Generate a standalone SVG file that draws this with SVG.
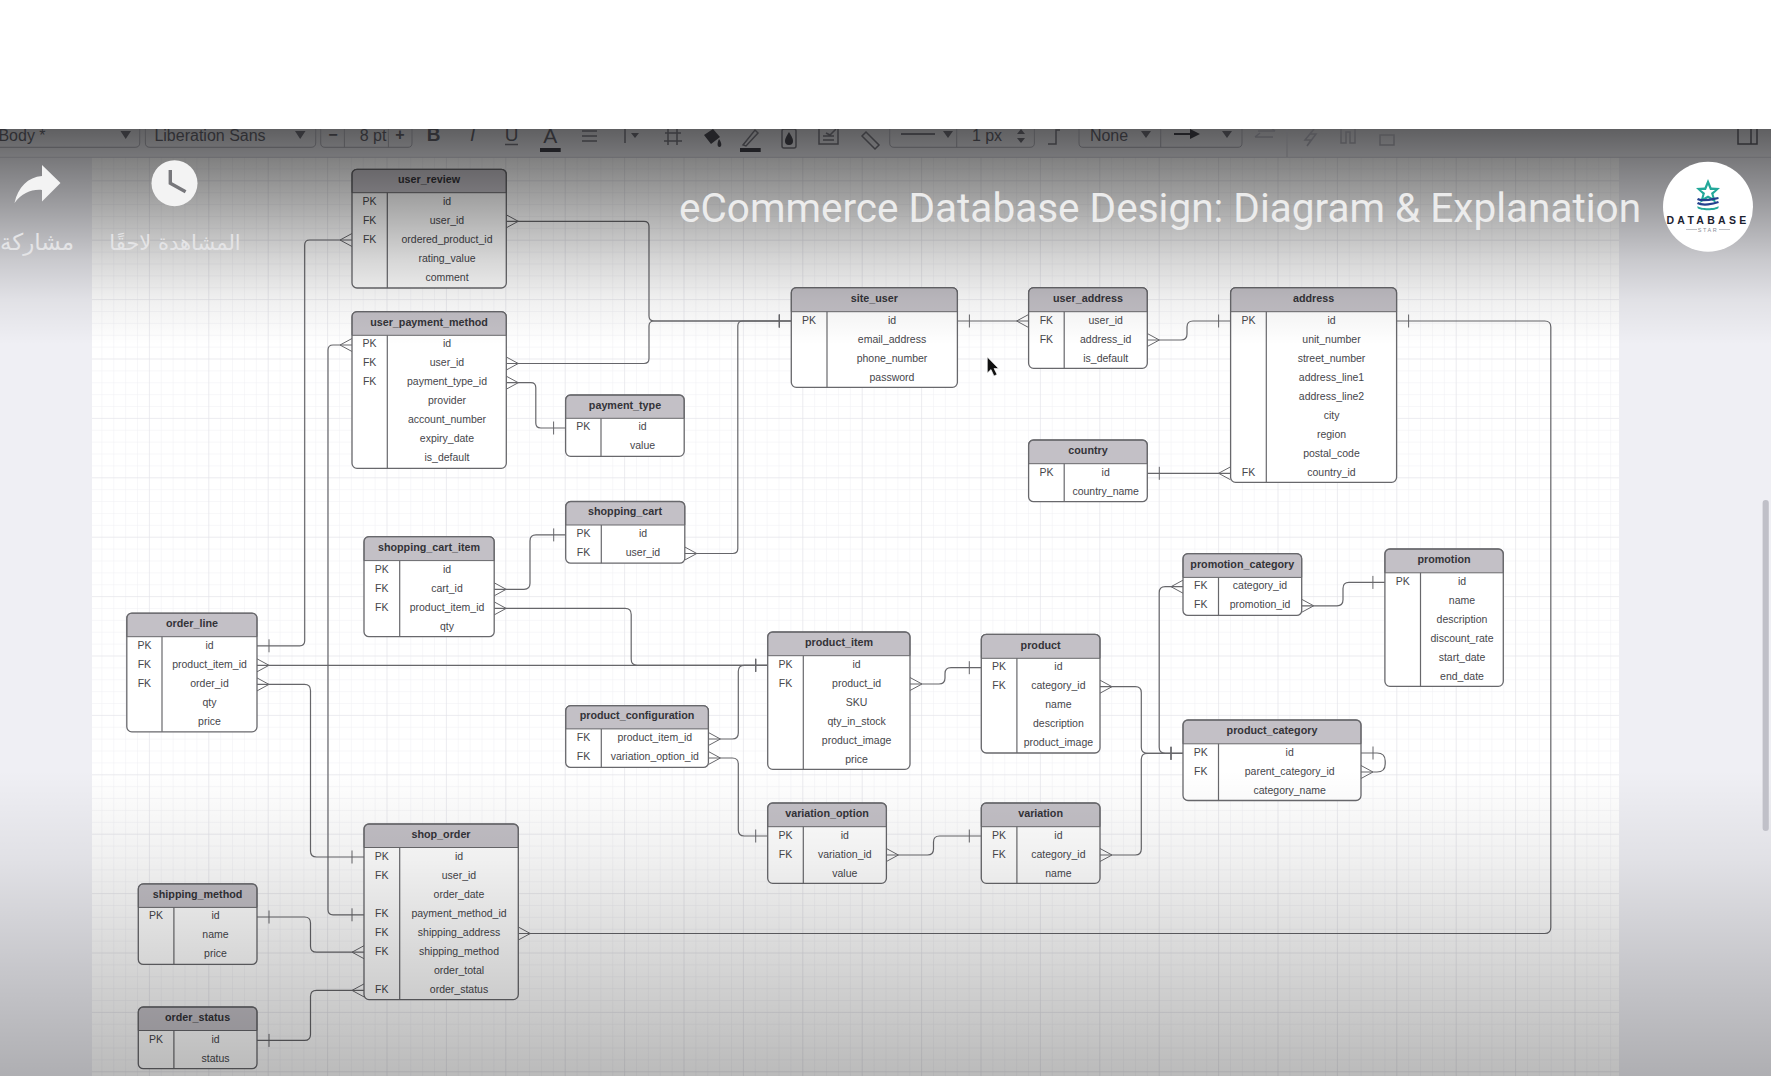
<svg xmlns="http://www.w3.org/2000/svg" width="1771" height="1076" viewBox="0 0 1771 1076">
<style>
.b{fill:#fff;stroke:none}.h{fill:#c3c0c6;stroke:#68686c;stroke-width:1}.o{fill:none;stroke:#68686c;stroke-width:1.3}.s{fill:none;stroke:#68686c;stroke-width:1.2}
text{font-family:"Liberation Sans",Arial,sans-serif;text-anchor:middle}
.t{font-size:10.75px;font-weight:700;fill:#333338;transform:translateY(-1px)}.k,.f{font-size:10.5px;fill:#46464b;transform:translateY(-.5px)}
.c{fill:none;stroke:#66666a;stroke-width:1.2}
.m{fill:none;stroke:#66666a;stroke-width:1}
.tb{font-size:16px;fill:#2f2f33}.ti{fill:none;stroke:#3a3a3e;stroke-width:1.5}.bx{fill:none;stroke:#535357;stroke-width:1}.tf{fill:#343438}
.ar{font-family:"DejaVu Sans",sans-serif;fill:#e4e4e6}
</style>
<defs>
<marker id="one" markerUnits="userSpaceOnUse" viewBox="-14 -8 14 16" markerWidth="14" markerHeight="16" refX="0" refY="0" orient="auto-start-reverse"><path class="m" d="M-12 -6.5V6.5"/></marker>
<marker id="many" markerUnits="userSpaceOnUse" viewBox="-14 -8 14 16" markerWidth="14" markerHeight="16" refX="0" refY="0" orient="auto-start-reverse"><path class="m" d="M0 -6.5L-12 0L0 6.5"/></marker>
<pattern id="gmin" patternUnits="userSpaceOnUse" x="30.1" y="2.1" width="11.88" height="11.88"><path d="M0 0V11.88M0 0H11.88" fill="none" stroke="#f0f0f3" stroke-width="1"/></pattern>
<pattern id="gmaj" patternUnits="userSpaceOnUse" x="30.1" y="2.1" width="59.4" height="59.4"><path d="M0 0V59.4M0 0H59.4" fill="none" stroke="#e2e2e7" stroke-width="1"/></pattern>
<linearGradient id="shade" gradientUnits="userSpaceOnUse" x1="0" y1="129" x2="0" y2="1076">
<stop offset="0" stop-color="#000" stop-opacity=".6"/><stop offset=".03" stop-color="#000" stop-opacity=".5"/><stop offset=".075" stop-color="#000" stop-opacity=".36"/><stop offset=".138" stop-color="#000" stop-opacity=".16"/><stop offset=".18" stop-color="#000" stop-opacity=".06"/><stop offset=".228" stop-color="#000" stop-opacity="0"/><stop offset=".677" stop-color="#000" stop-opacity="0"/><stop offset=".772" stop-color="#000" stop-opacity=".06"/><stop offset=".867" stop-color="#000" stop-opacity=".15"/><stop offset="1" stop-color="#000" stop-opacity=".27"/>
</linearGradient>
</defs>
<rect width="1771" height="1076" fill="#fff"/>
<rect x="0" y="129" width="1771" height="947" fill="#efeff4"/>
<rect x="92" y="157" width="1527" height="919" fill="#fff"/>
<rect x="92" y="157" width="1527" height="919" fill="url(#gmin)"/>
<rect x="92" y="157" width="1527" height="919" fill="url(#gmaj)"/>
<g id="connectors">
<path class="c" marker-start="url(#many)" marker-end="url(#one)" d="M506.3 221.3H644Q649 221.3 649 226.3V316Q649 321 654 321H791.3"/>
<path class="c" marker-start="url(#many)" marker-end="url(#one)" d="M506.3 363.5H644Q649 363.5 649 358.5V326Q649 321 654 321H791.3"/>
<path class="c" marker-start="url(#many)" marker-end="url(#one)" d="M684.8 553.5H732.8Q737.8 553.5 737.8 548.5V326Q737.8 321 742.8 321H791.3"/>
<path class="c" marker-start="url(#one)" marker-end="url(#many)" d="M257 645.8H299.7Q304.7 645.8 304.7 640.8V245Q304.7 240 309.7 240H352"/>
<path class="c" marker-start="url(#one)" marker-end="url(#many)" d="M364 914.8H333Q328 914.8 328 909.8V350Q328 345 333 345H352"/>
<path class="c" marker-start="url(#many)" marker-end="url(#one)" d="M506.3 382.7H530.8Q535.8 382.7 535.8 387.7V423Q535.8 428 540.8 428H565.6"/>
<path class="c" marker-start="url(#one)" marker-end="url(#many)" d="M957.4 321H1028.6"/>
<path class="c" marker-start="url(#many)" marker-end="url(#one)" d="M1147.3 340H1181Q1187 340 1187 334V327Q1187 321 1193 321H1230.6"/>
<path class="c" marker-start="url(#one)" marker-end="url(#many)" d="M1147.3 473.3H1230.6"/>
<path class="c" marker-start="url(#one)" marker-end="url(#many)" d="M1396.6 321H1544.8Q1550.8 321 1550.8 327V927.5Q1550.8 933.5 1544.8 933.5H518.3"/>
<path class="c" marker-start="url(#many)" marker-end="url(#one)" d="M494.2 589.3H524Q530 589.3 530 583.3V540.9Q530 534.9 536 534.9H565.7"/>
<path class="c" marker-start="url(#many)" marker-end="url(#one)" d="M494.2 608.4H625.2Q631.2 608.4 631.2 614.4V659.3Q631.2 665.3 637.2 665.3H767.7"/>
<path class="c" marker-start="url(#many)" marker-end="url(#one)" d="M257 665.3H767.7"/>
<path class="c" marker-start="url(#many)" marker-end="url(#one)" d="M708.4 739H732.3Q738.3 739 738.3 733V671.3Q738.3 665.3 744.3 665.3H767.7"/>
<path class="c" marker-start="url(#many)" marker-end="url(#one)" d="M708.4 758H732.3Q738.3 758 738.3 764V830Q738.3 836 744.3 836H767.7"/>
<path class="c" marker-start="url(#many)" marker-end="url(#one)" d="M910 684H939Q945 684 945 678V673.7Q945 667.7 951 667.7H981.3"/>
<path class="c" marker-start="url(#many)" marker-end="url(#one)" d="M1100 686.7H1135.3Q1141.3 686.7 1141.3 692.7V747.3Q1141.3 753.3 1147.3 753.3H1183"/>
<path class="c" marker-start="url(#many)" marker-end="url(#one)" d="M1100 855H1135.3Q1141.3 855 1141.3 849V759.3Q1141.3 753.3 1147.3 753.3H1183"/>
<path class="c" marker-start="url(#many)" marker-end="url(#one)" d="M1183 586.7H1165.2Q1159.2 586.7 1159.2 592.7V747.3Q1159.2 753.3 1165.2 753.3H1183"/>
<path class="c" marker-start="url(#many)" marker-end="url(#one)" d="M1301.7 605.8H1337Q1343 605.8 1343 599.8V588.4Q1343 582.4 1349 582.4H1384.9"/>
<path class="c" marker-start="url(#one)" marker-end="url(#many)" d="M1361 753H1377Q1385.2 753 1385.2 761V764Q1385.2 772 1377 772H1361"/>
<path class="c" marker-start="url(#many)" marker-end="url(#one)" d="M886.4 855H927.5Q933.5 855 933.5 849V842Q933.5 836 939.5 836H981.3"/>
<path class="c" marker-start="url(#many)" marker-end="url(#one)" d="M257 684.4H304.5Q310.5 684.4 310.5 690.4V851Q310.5 857 316.5 857H364"/>
<path class="c" marker-start="url(#one)" marker-end="url(#many)" d="M257 917H304.5Q310.5 917 310.5 923V946.2Q310.5 952.2 316.5 952.2H364"/>
<path class="c" marker-start="url(#one)" marker-end="url(#many)" d="M257 1040.4H304.5Q310.5 1040.4 310.5 1034.4V996.4Q310.5 990.4 316.5 990.4H364"/>
</g>
<g id="user_review"><rect class="b" x="352" y="169.3" width="154.3" height="118.7" rx="5"/><path class="h" d="M352 192.7V174.3Q352 169.3 357 169.3H501.3Q506.3 169.3 506.3 174.3V192.7Z"/><rect class="o" x="352" y="169.3" width="154.3" height="118.7" rx="5"/><path class="s" d="M387.3 192.7V288"/><text class="t" x="429" y="184">user_review</text><text class="k" x="369.6" y="205">PK</text><text class="k" x="369.6" y="224">FK</text><text class="k" x="369.6" y="243">FK</text><text class="f" x="447" y="205">id</text><text class="f" x="447" y="224">user_id</text><text class="f" x="447" y="243">ordered_product_id</text><text class="f" x="447" y="262">rating_value</text><text class="f" x="447" y="281">comment</text></g>
<g id="user_payment_method"><rect class="b" x="352" y="311.7" width="154.3" height="156.6" rx="5"/><path class="h" d="M352 335.3V316.7Q352 311.7 357 311.7H501.3Q506.3 311.7 506.3 316.7V335.3Z"/><rect class="o" x="352" y="311.7" width="154.3" height="156.6" rx="5"/><path class="s" d="M387.3 335.3V468.3"/><text class="t" x="429" y="326.6">user_payment_method</text><text class="k" x="369.6" y="347.8">PK</text><text class="k" x="369.6" y="366.8">FK</text><text class="k" x="369.6" y="385.8">FK</text><text class="f" x="447" y="347.8">id</text><text class="f" x="447" y="366.8">user_id</text><text class="f" x="447" y="385.8">payment_type_id</text><text class="f" x="447" y="404.8">provider</text><text class="f" x="447" y="423.8">account_number</text><text class="f" x="447" y="442.8">expiry_date</text><text class="f" x="447" y="461.8">is_default</text></g>
<g id="payment_type"><rect class="b" x="565.6" y="395" width="118.6" height="61.3" rx="5"/><path class="h" d="M565.6 418.3V400Q565.6 395 570.6 395H679.2Q684.2 395 684.2 400V418.3Z"/><rect class="o" x="565.6" y="395" width="118.6" height="61.3" rx="5"/><path class="s" d="M601 418.3V456.3"/><text class="t" x="625" y="409.6">payment_type</text><text class="k" x="583.3" y="430.8">PK</text><text class="f" x="642.6" y="430.8">id</text><text class="f" x="642.6" y="449.8">value</text></g>
<g id="site_user"><rect class="b" x="791.3" y="287.7" width="166.1" height="99.6" rx="5"/><path class="h" d="M791.3 311.7V292.7Q791.3 287.7 796.3 287.7H952.4Q957.4 287.7 957.4 292.7V311.7Z"/><rect class="o" x="791.3" y="287.7" width="166.1" height="99.6" rx="5"/><path class="s" d="M827 311.7V387.3"/><text class="t" x="874.3" y="303">site_user</text><text class="k" x="809" y="324.2">PK</text><text class="f" x="892" y="324.2">id</text><text class="f" x="892" y="343.2">email_address</text><text class="f" x="892" y="362.2">phone_number</text><text class="f" x="892" y="381.2">password</text></g>
<g id="user_address"><rect class="b" x="1028.6" y="287.7" width="118.7" height="80.6" rx="5"/><path class="h" d="M1028.6 311.7V292.7Q1028.6 287.7 1033.6 287.7H1142.3Q1147.3 287.7 1147.3 292.7V311.7Z"/><rect class="o" x="1028.6" y="287.7" width="118.7" height="80.6" rx="5"/><path class="s" d="M1064.2 311.7V368.3"/><text class="t" x="1088" y="303">user_address</text><text class="k" x="1046.4" y="324.2">FK</text><text class="k" x="1046.4" y="343.2">FK</text><text class="f" x="1105.7" y="324.2">user_id</text><text class="f" x="1105.7" y="343.2">address_id</text><text class="f" x="1105.7" y="362.2">is_default</text></g>
<g id="country"><rect class="b" x="1028.6" y="440" width="118.7" height="61.7" rx="5"/><path class="h" d="M1028.6 463.7V445Q1028.6 440 1033.6 440H1142.3Q1147.3 440 1147.3 445V463.7Z"/><rect class="o" x="1028.6" y="440" width="118.7" height="61.7" rx="5"/><path class="s" d="M1064.2 463.7V501.7"/><text class="t" x="1088" y="455">country</text><text class="k" x="1046.4" y="476.2">PK</text><text class="f" x="1105.7" y="476.2">id</text><text class="f" x="1105.7" y="495.2">country_name</text></g>
<g id="address"><rect class="b" x="1230.6" y="287.7" width="166" height="194.6" rx="5"/><path class="h" d="M1230.6 311.7V292.7Q1230.6 287.7 1235.6 287.7H1391.6Q1396.6 287.7 1396.6 292.7V311.7Z"/><rect class="o" x="1230.6" y="287.7" width="166" height="194.6" rx="5"/><path class="s" d="M1266.3 311.7V482.3"/><text class="t" x="1313.6" y="303">address</text><text class="k" x="1248.5" y="324.2">PK</text><text class="k" x="1248.5" y="476.2">FK</text><text class="f" x="1331.5" y="324.2">id</text><text class="f" x="1331.5" y="343.2">unit_number</text><text class="f" x="1331.5" y="362.2">street_number</text><text class="f" x="1331.5" y="381.2">address_line1</text><text class="f" x="1331.5" y="400.2">address_line2</text><text class="f" x="1331.5" y="419.2">city</text><text class="f" x="1331.5" y="438.2">region</text><text class="f" x="1331.5" y="457.2">postal_code</text><text class="f" x="1331.5" y="476.2">country_id</text></g>
<g id="shopping_cart"><rect class="b" x="565.7" y="501.5" width="119.1" height="61.7" rx="5"/><path class="h" d="M565.7 525V506.5Q565.7 501.5 570.7 501.5H679.8Q684.8 501.5 684.8 506.5V525Z"/><rect class="o" x="565.7" y="501.5" width="119.1" height="61.7" rx="5"/><path class="s" d="M601.3 525V563.2"/><text class="t" x="625" y="516">shopping_cart</text><text class="k" x="583.5" y="537.5">PK</text><text class="k" x="583.5" y="556.5">FK</text><text class="f" x="643" y="537.5">id</text><text class="f" x="643" y="556.5">user_id</text></g>
<g id="shopping_cart_item"><rect class="b" x="364" y="536.7" width="130.2" height="100" rx="5"/><path class="h" d="M364 560.6V541.7Q364 536.7 369 536.7H489.2Q494.2 536.7 494.2 541.7V560.6Z"/><rect class="o" x="364" y="536.7" width="130.2" height="100" rx="5"/><path class="s" d="M399.7 560.6V636.7"/><text class="t" x="429" y="552">shopping_cart_item</text><text class="k" x="381.8" y="573">PK</text><text class="k" x="381.8" y="592">FK</text><text class="k" x="381.8" y="611">FK</text><text class="f" x="447" y="573">id</text><text class="f" x="447" y="592">cart_id</text><text class="f" x="447" y="611">product_item_id</text><text class="f" x="447" y="630">qty</text></g>
<g id="order_line"><rect class="b" x="126.8" y="613.2" width="130.2" height="118.6" rx="5"/><path class="h" d="M126.8 636.7V618.2Q126.8 613.2 131.8 613.2H252Q257 613.2 257 618.2V636.7Z"/><rect class="o" x="126.8" y="613.2" width="130.2" height="118.6" rx="5"/><path class="s" d="M162 636.7V731.8"/><text class="t" x="192" y="627.5">order_line</text><text class="k" x="144.4" y="649.2">PK</text><text class="k" x="144.4" y="668.2">FK</text><text class="k" x="144.4" y="687.2">FK</text><text class="f" x="209.5" y="649.2">id</text><text class="f" x="209.5" y="668.2">product_item_id</text><text class="f" x="209.5" y="687.2">order_id</text><text class="f" x="209.5" y="706.2">qty</text><text class="f" x="209.5" y="725.2">price</text></g>
<g id="product_configuration"><rect class="b" x="565.7" y="705.7" width="142.7" height="61.7" rx="5"/><path class="h" d="M565.7 728.9V710.7Q565.7 705.7 570.7 705.7H703.4Q708.4 705.7 708.4 710.7V728.9Z"/><rect class="o" x="565.7" y="705.7" width="142.7" height="61.7" rx="5"/><path class="s" d="M601.3 728.9V767.4"/><text class="t" x="637" y="720">product_configuration</text><text class="k" x="583.5" y="741.5">FK</text><text class="k" x="583.5" y="760.5">FK</text><text class="f" x="654.8" y="741.5">product_item_id</text><text class="f" x="654.8" y="760.5">variation_option_id</text></g>
<g id="product_item"><rect class="b" x="767.7" y="632" width="142.3" height="137.3" rx="5"/><path class="h" d="M767.7 655.7V637Q767.7 632 772.7 632H905Q910 632 910 637V655.7Z"/><rect class="o" x="767.7" y="632" width="142.3" height="137.3" rx="5"/><path class="s" d="M803.3 655.7V769.3"/><text class="t" x="839" y="647">product_item</text><text class="k" x="785.5" y="668.2">PK</text><text class="k" x="785.5" y="687.2">FK</text><text class="f" x="856.6" y="668.2">id</text><text class="f" x="856.6" y="687.2">product_id</text><text class="f" x="856.6" y="706.2">SKU</text><text class="f" x="856.6" y="725.2">qty_in_stock</text><text class="f" x="856.6" y="744.2">product_image</text><text class="f" x="856.6" y="763.2">price</text></g>
<g id="product"><rect class="b" x="981.3" y="634.3" width="118.7" height="118.7" rx="5"/><path class="h" d="M981.3 658.3V639.3Q981.3 634.3 986.3 634.3H1095Q1100 634.3 1100 639.3V658.3Z"/><rect class="o" x="981.3" y="634.3" width="118.7" height="118.7" rx="5"/><path class="s" d="M1016.9 658.3V753"/><text class="t" x="1040.6" y="649.5">product</text><text class="k" x="999" y="670.8">PK</text><text class="k" x="999" y="689.8">FK</text><text class="f" x="1058.4" y="670.8">id</text><text class="f" x="1058.4" y="689.8">category_id</text><text class="f" x="1058.4" y="708.8">name</text><text class="f" x="1058.4" y="727.8">description</text><text class="f" x="1058.4" y="746.8">product_image</text></g>
<g id="variation_option"><rect class="b" x="767.7" y="803" width="118.7" height="80.3" rx="5"/><path class="h" d="M767.7 826.7V808Q767.7 803 772.7 803H881.4Q886.4 803 886.4 808V826.7Z"/><rect class="o" x="767.7" y="803" width="118.7" height="80.3" rx="5"/><path class="s" d="M803.3 826.7V883.3"/><text class="t" x="827" y="818">variation_option</text><text class="k" x="785.5" y="839.2">PK</text><text class="k" x="785.5" y="858.2">FK</text><text class="f" x="844.8" y="839.2">id</text><text class="f" x="844.8" y="858.2">variation_id</text><text class="f" x="844.8" y="877.2">value</text></g>
<g id="variation"><rect class="b" x="981.3" y="803" width="118.7" height="80.3" rx="5"/><path class="h" d="M981.3 826.7V808Q981.3 803 986.3 803H1095Q1100 803 1100 808V826.7Z"/><rect class="o" x="981.3" y="803" width="118.7" height="80.3" rx="5"/><path class="s" d="M1016.9 826.7V883.3"/><text class="t" x="1040.6" y="818">variation</text><text class="k" x="999" y="839.2">PK</text><text class="k" x="999" y="858.2">FK</text><text class="f" x="1058.4" y="839.2">id</text><text class="f" x="1058.4" y="858.2">category_id</text><text class="f" x="1058.4" y="877.2">name</text></g>
<g id="promotion_category"><rect class="b" x="1183" y="553.7" width="118.7" height="61.7" rx="5"/><path class="h" d="M1183 577.4V558.7Q1183 553.7 1188 553.7H1296.7Q1301.7 553.7 1301.7 558.7V577.4Z"/><rect class="o" x="1183" y="553.7" width="118.7" height="61.7" rx="5"/><path class="s" d="M1218.5 577.4V615.4"/><text class="t" x="1242.3" y="568.5">promotion_category</text><text class="k" x="1200.8" y="589.8">FK</text><text class="k" x="1200.8" y="608.8">FK</text><text class="f" x="1260" y="589.8">category_id</text><text class="f" x="1260" y="608.8">promotion_id</text></g>
<g id="promotion"><rect class="b" x="1384.9" y="549" width="118.4" height="137.3" rx="5"/><path class="h" d="M1384.9 572.8V554Q1384.9 549 1389.9 549H1498.3Q1503.3 549 1503.3 554V572.8Z"/><rect class="o" x="1384.9" y="549" width="118.4" height="137.3" rx="5"/><path class="s" d="M1420.5 572.8V686.3"/><text class="t" x="1444" y="563.5">promotion</text><text class="k" x="1402.7" y="585.3">PK</text><text class="f" x="1462" y="585.3">id</text><text class="f" x="1462" y="604.3">name</text><text class="f" x="1462" y="623.3">description</text><text class="f" x="1462" y="642.3">discount_rate</text><text class="f" x="1462" y="661.3">start_date</text><text class="f" x="1462" y="680.3">end_date</text></g>
<g id="product_category"><rect class="b" x="1183" y="720" width="178" height="80.5" rx="5"/><path class="h" d="M1183 743.8V725Q1183 720 1188 720H1356Q1361 720 1361 725V743.8Z"/><rect class="o" x="1183" y="720" width="178" height="80.5" rx="5"/><path class="s" d="M1218.5 743.8V800.5"/><text class="t" x="1272" y="735">product_category</text><text class="k" x="1200.8" y="756.3">PK</text><text class="k" x="1200.8" y="775.3">FK</text><text class="f" x="1289.7" y="756.3">id</text><text class="f" x="1289.7" y="775.3">parent_category_id</text><text class="f" x="1289.7" y="794.3">category_name</text></g>
<g id="shop_order"><rect class="b" x="364" y="824" width="154.3" height="175.6" rx="5"/><path class="h" d="M364 847.5V829Q364 824 369 824H513.3Q518.3 824 518.3 829V847.5Z"/><rect class="o" x="364" y="824" width="154.3" height="175.6" rx="5"/><path class="s" d="M399.7 847.5V999.6"/><text class="t" x="441" y="839">shop_order</text><text class="k" x="381.8" y="860">PK</text><text class="k" x="381.8" y="879">FK</text><text class="k" x="381.8" y="917">FK</text><text class="k" x="381.8" y="936">FK</text><text class="k" x="381.8" y="955">FK</text><text class="k" x="381.8" y="993">FK</text><text class="f" x="459" y="860">id</text><text class="f" x="459" y="879">user_id</text><text class="f" x="459" y="898">order_date</text><text class="f" x="459" y="917">payment_method_id</text><text class="f" x="459" y="936">shipping_address</text><text class="f" x="459" y="955">shipping_method</text><text class="f" x="459" y="974">order_total</text><text class="f" x="459" y="993">order_status</text></g>
<g id="shipping_method"><rect class="b" x="138.3" y="883.9" width="118.7" height="80.5" rx="5"/><path class="h" d="M138.3 907.4V888.9Q138.3 883.9 143.3 883.9H252Q257 883.9 257 888.9V907.4Z"/><rect class="o" x="138.3" y="883.9" width="118.7" height="80.5" rx="5"/><path class="s" d="M173.9 907.4V964.4"/><text class="t" x="197.6" y="898.5">shipping_method</text><text class="k" x="156" y="919.9">PK</text><text class="f" x="215.5" y="919.9">id</text><text class="f" x="215.5" y="938.9">name</text><text class="f" x="215.5" y="957.9">price</text></g>
<g id="order_status"><rect class="b" x="138.3" y="1007" width="118.7" height="61.7" rx="5"/><path class="h" d="M138.3 1030.5V1012Q138.3 1007 143.3 1007H252Q257 1007 257 1012V1030.5Z"/><rect class="o" x="138.3" y="1007" width="118.7" height="61.7" rx="5"/><path class="s" d="M173.9 1030.5V1068.7"/><text class="t" x="197.6" y="1021.5">order_status</text><text class="k" x="156" y="1043">PK</text><text class="f" x="215.5" y="1043">id</text><text class="f" x="215.5" y="1062">status</text></g>
<path id="cursor" d="M987.3 357V373L991 369.5L994 376L997 374.5L994 368.5H998.5Z" fill="#111" stroke="#fff" stroke-width=".6"/>
<rect id="shade-overlay" x="0" y="129" width="1771" height="947" fill="url(#shade)"/>
<g id="toolbar">
<path d="M0 157.3H1771" stroke="#6a6a6e" stroke-width="1" fill="none"/>
<path class="bx" d="M-5 147.3H135Q139.7 147.3 139.7 143V129M145.4 129V143Q145.4 147.3 150 147.3H311Q315.7 147.3 315.7 143V129M320.7 129V143Q320.7 147.3 325 147.3H408Q412 147.3 412 143V129M344.4 129V147.3M388.4 129V147.3"/>
<path class="bx" d="M889.7 129V143Q889.7 147.3 894 147.3H1030Q1034.4 147.3 1034.4 143V129M956.7 129V147.3M1079 129V143Q1079 147.3 1083 147.3H1238Q1242 147.3 1242 143V129M1160.7 129V147.3"/>
<text class="tb" x="22" y="140.5">Body *</text>
<text class="tb" x="210" y="140.5">Liberation Sans</text>
<text class="tb" x="373" y="140.5">8 pt</text>
<path class="tf" d="M120.5 131H131L125.7 139ZM295 131H305.5L300.2 139ZM943 131H953L948 138ZM1141 131H1151L1146 138ZM1222 131H1232L1227 138ZM631 133H639L635 138Z"/>
<text class="tb" x="333" y="140" font-weight="700">−</text><text class="tb" x="400" y="140" font-weight="700">+</text>
<text class="tb" x="433.6" y="141" font-weight="700" style="font-size:19px">B</text>
<text class="tb" x="472.6" y="141" font-style="italic" style="font-size:19px">I</text>
<text class="tb" x="511.7" y="141" style="font-size:19px">U</text><path class="ti" d="M505 144.5H518"/>
<text class="tb" x="550.3" y="143" style="font-size:21px">A</text><path d="M540 148H560.7V152H540Z" fill="#202024"/>
<path class="ti" d="M582 131H597M582 136H597M582 141H597M625 129V143"/>
<path class="ti" d="M665 133H681M668 129V145M677 129V145M664 141H682"/>
<path d="M704 135L713 129L720 137L711 144ZM719 139C722 143 722 147 719.5 147C717 147 717 143 719 139Z" fill="#232327"/>
<path class="ti" d="M743 145L755 130L758 133L746 146Z"/><path d="M740 148H760.7V152H740Z" fill="#202024"/>
<rect class="ti" x="782" y="129" width="14" height="19" rx="2"/><path d="M789 132C792 137 793 139 793 141A4 4 0 0 1 785 141C785 139 786 137 789 132Z" fill="#232327"/>
<path class="ti" d="M819 129V144H838V129M823 136H834M823 140H834M826 133L830 135L836 129"/>
<path class="ti" d="M862 136L875 149L879 145L866 132Z"/>
<path class="ti" d="M901 134H935" style="stroke-width:2"/>
<text class="tb" x="987" y="140.5">1 px</text>
<path class="tf" d="M1021 129L1025 134H1017ZM1021 143L1025 138H1017Z"/>
<path class="ti" d="M1048 144H1056V130H1060"/>
<text class="tb" x="1109" y="140.5">None</text>
<path d="M1174 133H1190V129L1200 134L1190 139V135H1174Z" fill="#202024"/>
<path class="ti" d="M1255 137H1273M1255 137L1260 133M1275 131H1258M1275 131L1270 127" style="stroke:#55555a"/>
<path class="ti" d="M1287 129V157" style="stroke:#626266;stroke-width:1"/>
<path class="ti" d="M1314 129L1305 140H1311L1307 146L1316 134H1310" style="stroke:#55555a"/>
<path class="ti" d="M1341 129V143H1346V132H1350V143H1355V129" style="stroke:#55555a"/>
<path class="ti" d="M1380 135H1394V145H1380Z" style="stroke:#55555a"/>
<path class="ti" d="M1738 129V144H1757V129M1751 129V144" style="stroke:#2f2f33"/>
</g>
<rect x="0" y="0" width="1771" height="129" fill="#fff"/>
<g id="video-overlay">
<path d="M42 165L60.5 183L42 201.5V190C32 189 22 193 14.5 203C18 187 28 177 42 176Z" fill="#f3f3f3"/>
<circle cx="174.5" cy="183.3" r="23" fill="#f3f3f3"/>
<path d="M170.3 170V183.3L185.6 191.7" fill="none" stroke="#77777b" stroke-width="3.4"/>
<text class="ar" x="37" y="250" direction="rtl" style="font-size:23px">مشاركة</text>
<text class="ar" x="175" y="250" direction="rtl" style="font-size:21px">المشاهدة لاحقًا</text>
<text x="1160" y="222" style="font-family:Roboto,sans-serif;font-size:40.5px;fill:#ececec">eCommerce Database Design: Diagram &amp; Explanation</text>
<circle cx="1708" cy="206.7" r="45" fill="#fff"/>
<path d="M1708 179L1711.5 187.5L1720 188L1713.5 194L1716 203L1708 198L1700 203L1702.5 194L1696 188L1704.5 187.5Z" fill="#23a89a"/>
<path d="M1708 185L1710 190H1715L1711 193L1712.5 198L1708 195.5L1703.5 198L1705 193L1701 190H1706Z" fill="#fff"/>
<path d="M1697.5 199C1703 202 1713 199 1718.5 198M1697.5 203C1703 206 1713 204 1718.5 202" fill="none" stroke="#24408e" stroke-width="2.2"/>
<path d="M1697.5 206C1700 209 1716 209 1718.5 206V208C1716 211 1700 211 1697.5 208Z" fill="#23a89a"/>
<text x="1708" y="223.5" style="font-size:10.5px;font-weight:700;fill:#1c2230;letter-spacing:3.3px">DATABASE</text>
<text x="1708" y="231.5" style="font-size:5.5px;fill:#8a8f98;letter-spacing:1.6px">STAR</text>
<path d="M1686 229.5H1697M1719 229.5H1730" stroke="#a5a8ae" stroke-width=".7"/>
<rect x="1762.6" y="500" width="6.2" height="331" rx="3" fill="#c0c0c8"/>
</g>
</svg>
